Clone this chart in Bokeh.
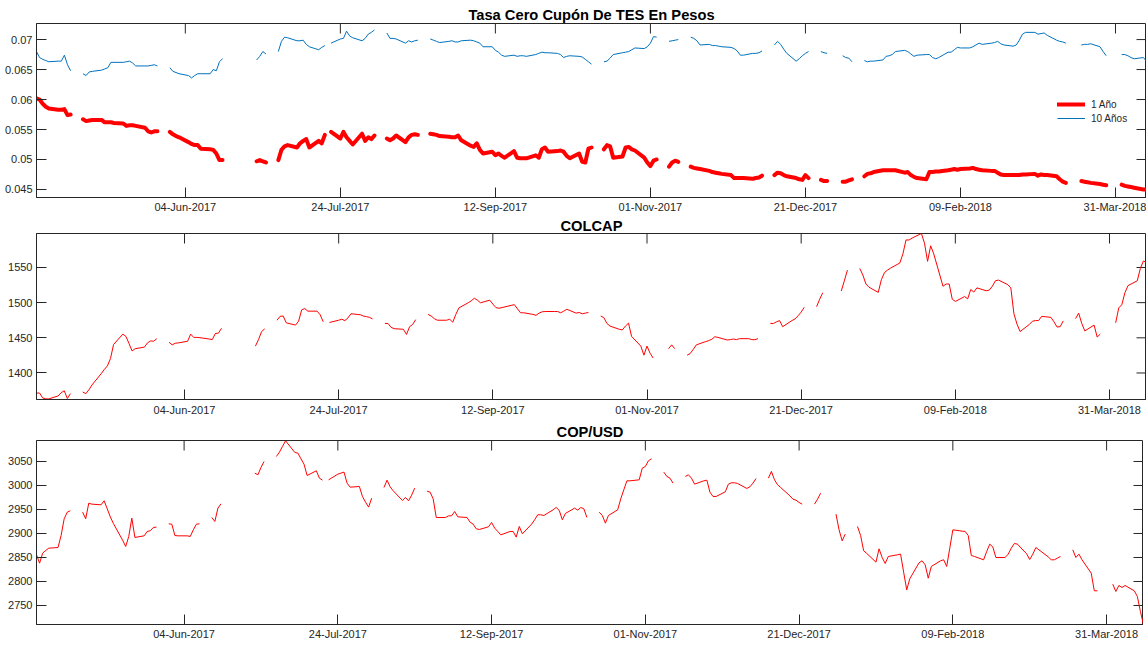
import math
import pandas as pd
from bokeh.plotting import figure
from bokeh.layouts import column
from bokeh.models import (ColumnDataSource, Range1d, FixedTicker, CustomJSTickFormatter,
                          Legend, LegendItem)
from bokeh.embed import file_html
from bokeh.resources import INLINE

N = float("nan")

# business days, Mon 17-Apr-2017 .. Thu 12-Apr-2018 (one row per week, Mon..Fri)
dates = pd.bdate_range("2017-04-17", "2018-04-12")

tes_1y = [
    0.0602, 0.0600, 0.0593, 0.0588, 0.0585,
    0.0583, 0.0583, 0.0584, 0.0574, 0.0575,
    N, 0.0567, 0.0564, 0.0565, 0.0566,
    0.0566, 0.0562, 0.0562, 0.0562, 0.0561,
    0.0560, 0.0556, 0.0557, 0.0557, 0.0556,
    0.0553, 0.0547, 0.0545, 0.0547, 0.0547,
    N, 0.0546, 0.0542, 0.0539, 0.0537,
    0.0529, 0.0526, 0.0524, 0.0524, 0.0518,
    0.0517, 0.0516, 0.0510, 0.0499, 0.0499,
    N, N, N, N, N,
    N, 0.0497, 0.0499, 0.0497, 0.0495,
    N, 0.0499, 0.0516, 0.0522, 0.0524,
    0.0520, 0.0527, 0.0531, 0.0534, 0.0520,
    0.0531, 0.0527, 0.0541, N, 0.0546,
    0.0535, 0.0546, 0.0537, 0.0531, 0.0525,
    0.0543, 0.0531, 0.0537, 0.0534, 0.0540,
    N, 0.0535, 0.0532, 0.0535, 0.0540,
    0.0529, 0.0537, 0.0541, 0.0542, 0.0541,
    N, 0.0543, 0.0542, 0.0541, 0.0539,
    0.0538, 0.0537, 0.0537, 0.0540, 0.0532,
    0.0523, 0.0521, 0.0527, 0.0516, 0.0510,
    0.0513, 0.0507, 0.0510, 0.0506, 0.0503,
    0.0514, 0.0503, 0.0502, 0.0502, 0.0502,
    0.0507, 0.0503, 0.0517, 0.0520, 0.0513,
    0.0514, 0.0515, 0.0513, 0.0506, 0.0502,
    0.0510, 0.0496, 0.0495, 0.0518, 0.0520,
    N, 0.0517, 0.0524, 0.0522, 0.0503,
    0.0505, 0.0520, 0.0521, 0.0517, 0.0515,
    0.0503, 0.0495, 0.0489, 0.0498, 0.0500,
    N, 0.0488, 0.0495, 0.0498, 0.0496,
    N, 0.0488, 0.0486, 0.0485, 0.0484,
    0.0481, 0.0479, 0.0478, 0.0477, 0.0476,
    0.0474, 0.0469, 0.0469, 0.0469, 0.0469,
    0.0468, 0.0469, 0.0470, 0.0473, N,
    0.0474, 0.0478, 0.0477, 0.0474, 0.0472,
    0.0469, 0.0467, 0.0466, 0.0474, 0.0469,
    N, 0.0466, 0.0464, 0.0464, N,
    N, 0.0463, 0.0463, 0.0465, 0.0467,
    N, 0.0472, 0.0476, 0.0477, 0.0479,
    0.0482, 0.0482, 0.0482, 0.0482, 0.0482,
    0.0478, 0.0479, 0.0474, 0.0471, 0.0469,
    0.0467, 0.0479, 0.0479, 0.0480, 0.0480,
    0.0482, 0.0483, 0.0484, 0.0483, 0.0484,
    0.0485, 0.0486, 0.0484, 0.0483, 0.0482,
    0.0481, 0.0481, 0.0478, 0.0475, 0.0474,
    0.0474, 0.0474, 0.0474, 0.0475, 0.0475,
    0.0476, 0.0473, 0.0475, 0.0474, 0.0474,
    0.0472, 0.0467, 0.0463, 0.0461, N,
    N, 0.0464, 0.0463, 0.0462, 0.0461,
    0.0459, 0.0458, 0.0457, N, N,
    0.0458, 0.0456, 0.0455, 0.0454, 0.0453,
    0.0450, 0.0450,
]

tes_10y = [
    0.0680, 0.0670, 0.0667, 0.0665, 0.0663,
    0.0664, 0.0664, 0.0674, 0.0658, 0.0648,
    N, 0.0643, 0.0640, 0.0646, 0.0647,
    0.0649, 0.0651, 0.0653, 0.0662, 0.0662,
    0.0662, 0.0663, 0.0664, 0.0661, 0.0656,
    0.0656, 0.0656, 0.0657, 0.0658, 0.0656,
    N, 0.0653, 0.0647, 0.0645, 0.0643,
    0.0640, 0.0636, 0.0640, 0.0643, 0.0643,
    0.0643, 0.0650, 0.0648, 0.0663, 0.0668,
    N, N, N, N, N,
    N, 0.0666, 0.0672, 0.0680, 0.0676,
    N, 0.0680, 0.0697, 0.0704, 0.0703,
    0.0698, 0.0698, 0.0699, 0.0692, 0.0688,
    0.0683, 0.0687, 0.0690, N, 0.0694,
    0.0701, 0.0702, 0.0714, 0.0706, 0.0703,
    0.0698, 0.0702, 0.0709, 0.0712, 0.0716,
    N, 0.0711, 0.0702, 0.0702, 0.0701,
    0.0694, 0.0698, 0.0696, 0.0698, 0.0699,
    N, 0.0701, 0.0699, 0.0697, 0.0695,
    0.0697, 0.0698, 0.0696, 0.0696, 0.0698,
    0.0699, 0.0698, 0.0696, 0.0694, 0.0688,
    0.0688, 0.0682, 0.0679, 0.0674, 0.0672,
    0.0674, 0.0672, 0.0673, 0.0673, 0.0672,
    0.0675, 0.0677, 0.0679, 0.0678, 0.0678,
    0.0677, 0.0675, 0.0670, 0.0672, 0.0673,
    0.0672, 0.0671, 0.0667, 0.0663, 0.0659,
    N, 0.0663, 0.0664, 0.0669, 0.0675,
    0.0678, 0.0679, 0.0680, 0.0683, 0.0686,
    0.0685, 0.0688, 0.0694, 0.0705, 0.0704,
    N, 0.0697, 0.0698, 0.0699, 0.0700,
    N, 0.0704, 0.0702, 0.0698, 0.0691,
    0.0692, 0.0690, 0.0690, 0.0689, 0.0688,
    0.0687, 0.0685, 0.0681, 0.0674, 0.0674,
    0.0677, 0.0677, 0.0678, 0.0681, N,
    0.0691, 0.0697, 0.0692, 0.0684, 0.0677,
    0.0664, 0.0668, 0.0673, 0.0677, 0.0680,
    N, 0.0680, 0.0678, 0.0677, N,
    N, 0.0673, 0.0670, 0.0669, 0.0663,
    N, 0.0665, 0.0663, 0.0664, 0.0664,
    0.0666, 0.0672, 0.0673, 0.0675, 0.0680,
    0.0682, 0.0680, 0.0676, 0.0672, 0.0674,
    0.0675, 0.0675, 0.0670, 0.0668, 0.0670,
    0.0679, 0.0679, 0.0683, 0.0687, 0.0686,
    0.0686, 0.0688, 0.0691, 0.0694, 0.0692,
    0.0694, 0.0695, 0.0697, 0.0693, 0.0691,
    0.0689, 0.0691, 0.0699, 0.0709, 0.0712,
    0.0712, 0.0709, 0.0710, 0.0711, 0.0707,
    0.0699, 0.0697, 0.0696, 0.0694, N,
    N, 0.0691, 0.0692, 0.0692, 0.0693,
    0.0688, 0.0680, 0.0673, N, N,
    0.0675, 0.0675, 0.0673, 0.0670, 0.0668,
    0.0670, 0.0664,
]

colcap = [
    1371.5, 1371.5, 1364.6, 1363.2, 1363.2,
    1367.3, 1372.0, 1374.7, 1363.7, 1370.6,
    N, 1372.9, 1370.6, 1376.1, 1383.0,
    1399.1, 1405.1, 1410.1, 1420.7, 1440.5,
    1455.2, 1452.0, 1441.9, 1431.3, 1434.5,
    1436.8, 1442.8, 1445.6, 1445.1, 1448.8,
    N, 1443.7, 1440.0, 1442.3, 1442.8,
    1445.1, 1455.2, 1450.6, 1450.6, 1450.2,
    1448.3, 1447.4, 1456.1, 1456.6, 1463.5,
    N, N, N, N, N,
    N, 1438.2, 1447.4, 1458.9, 1462.6,
    N, 1475.0, 1480.5, 1481.0, 1471.3,
    1468.1, 1473.6, 1489.7, 1491.6, 1487.9,
    1487.9, 1482.8, 1472.7, N, 1471.8,
    1475.0, 1476.4, 1474.5, 1478.2, 1484.2,
    1482.8, 1481.0, 1480.1, 1479.1, 1476.8,
    N, 1470.4, 1470.4, 1464.9, 1463.0,
    1462.1, 1454.8, 1465.8, 1469.0, 1475.9,
    N, 1483.3, 1481.0, 1477.3, 1475.0,
    1475.0, 1476.4, 1472.2, 1483.3, 1492.5,
    1499.8, 1502.6, 1506.3, 1503.5, 1499.8,
    1503.5, 1498.0, 1493.0, 1492.0, 1493.0,
    1496.2, 1497.1, 1491.1, 1485.6, 1485.6,
    1483.3, 1481.9, 1485.1, 1487.0, 1487.4,
    1487.4, 1487.4, 1485.6, 1487.9, 1490.6,
    1485.1, 1486.0, 1484.2, 1485.1, 1486.0,
    N, 1481.0, 1478.7, 1470.4, 1466.7,
    1462.1, 1461.2, 1466.7, 1470.9, 1452.0,
    1438.2, 1425.3, 1438.2, 1428.1, 1421.2,
    N, N, 1434.5, 1440.0, 1434.5,
    N, 1425.3, 1427.6, 1433.6, 1440.0,
    1444.6, 1446.0, 1447.9, 1451.5, 1450.6,
    1446.9, 1447.4, 1448.3, 1447.4, 1448.8,
    1448.8, 1447.4, 1447.4, 1448.8, N,
    1470.4, 1470.4, 1472.7, 1474.5, 1465.8,
    1474.5, 1476.8, 1481.4, 1486.5, 1493.4,
    N, 1494.3, 1504.9, 1514.1, N,
    N, N, 1516.4, 1531.0, 1546.3,
    N, 1548.6, 1539.4, 1526.5, 1521.9,
    1514.6, 1532.5, 1542.6, 1546.3, 1549.1,
    1556.4, 1569.3, 1589.1, 1589.1, 1591.9,
    1598.3, 1584.5, 1558.7, 1580.8, 1569.3,
    1523.3, 1526.5, 1526.5, 1504.9, 1501.7,
    1508.6, 1505.4, 1518.7, 1515.0, 1521.0,
    1516.9, 1517.8, 1523.3, 1531.1, 1532.1,
    1525.6, 1521.0, 1484.2, 1469.5, 1458.9,
    1469.0, 1473.6, 1474.5, 1474.5, 1480.5,
    1479.1, 1472.7, 1465.3, 1465.8, 1474.1,
    N, 1477.3, 1485.1, 1470.4, 1459.8,
    1468.1, 1451.1, 1455.2, N, N,
    1471.3, 1492.5, 1497.1, 1514.1, 1524.2,
    1531.1, 1548.6, 1559.2, 1557.0,
]

copusd = [
    2855.6, 2838.2, 2859.0, 2864.6, 2869.4,
    2870.8, 2895.8, 2930.6, 2944.4, 2947.2,
    N, 2944.4, 2930.6, 2963.2, 2961.1,
    2959.7, 2968.1, 2951.4, 2934.7, 2920.8,
    2886.1, 2872.9, 2893.8, 2931.9, 2891.7,
    2895.1, 2904.2, 2905.6, 2912.5, 2913.2,
    N, 2920.1, 2919.4, 2895.8, 2895.1,
    2895.1, 2893.8, 2907.6, 2919.4, 2920.1,
    N, 2933.3, 2925.0, 2952.8, 2961.8,
    N, N, N, N, N,
    N, 3025.7, 3022.2, 3037.5, 3050.0,
    N, 3060.4, 3069.4, 3081.3, 3093.1,
    3068.8, 3067.4, 3055.6, 3044.4, 3020.8,
    3030.6, 3015.3, 3011.1, N, 3011.8,
    3023.6, 3025.7, 3027.8, 3004.9, 2996.5,
    2997.9, 2977.1, 2965.3, 2954.9, 2973.6,
    N, 2995.8, 3011.1, 2997.2, 2988.9,
    2968.8, 2975.0, 2968.1, 2979.9, 2994.4,
    N, 2988.2, 2986.1, 2972.2, 2933.3,
    2933.3, 2936.8, 2936.8, 2945.8, 2934.7,
    2933.3, 2923.6, 2919.4, 2909.7, 2908.3,
    2913.9, 2922.9, 2911.1, 2904.2, 2897.2,
    2904.2, 2904.2, 2892.4, 2914.6, 2899.3,
    2919.4, 2928.5, 2938.9, 2938.9, 2937.5,
    2949.3, 2954.2, 2948.0, 2928.5, 2941.7,
    2952.8, 2948.6, 2954.2, 2951.4, 2933.3,
    N, 2944.4, 2937.5, 2921.5, 2937.5,
    2949.3, 2972.2, 2991.0, 3009.7, 3009.7,
    3011.8, 3036.1, 3039.6, 3051.4, 3055.6,
    N, 3027.8, 3018.8, 3015.3, 3004.9,
    N, 3018.8, 3022.2, 3015.3, 3002.8,
    3009.7, 3011.1, 2986.1, 2977.1, 2977.1,
    2986.8, 3002.8, 3005.6, 3005.6, 3004.2,
    2993.8, 2997.2, 3004.9, 3014.6, N,
    3015.3, 3029.2, 3011.8, 3001.4, 2995.8,
    2978.5, 2971.5, 2969.4, 2964.6, 2961.1,
    N, 2961.1, 2971.5, 2984.0, N,
    N, 2940.3, 2907.6, 2884.7, 2898.6,
    N, 2914.6, 2895.8, 2863.9, 2858.4,
    2840.3, 2868.1, 2850.0, 2837.5, 2852.1,
    2855.6, 2857.0, 2819.4, 2782.6, 2805.6,
    2838.9, 2843.1, 2834.7, 2806.9, 2831.3,
    2843.1, 2845.2, 2831.3, 2869.4, 2907.6,
    2904.9, 2904.2, 2895.8, 2854.2, 2852.1,
    2845.2, 2862.5, 2877.8, 2872.0, 2850.0,
    2850.0, 2856.9, 2869.4, 2879.2, 2877.8,
    2857.6, 2845.8, 2856.9, 2870.8, 2865.9,
    2851.4, 2845.2, 2845.2, 2848.6, 2852.1,
    N, 2866.0, 2850.0, 2857.0, 2845.2,
    2817.4, 2780.6, 2780.6, N, N,
    2794.4, 2779.2, 2791.7, 2787.5, 2791.7,
    2780.6, 2768.8, 2737.5, 2709.7,
]

x_tick_dates = ["2017-06-04", "2017-07-24", "2017-09-12", "2017-11-01",
                "2017-12-21", "2018-02-09", "2018-03-31"]
tes_yticks = [0.045, 0.05, 0.055, 0.06, 0.065, 0.07]
colcap_yticks = [1400, 1450, 1500, 1550]
cop_yticks = [2750, 2800, 2850, 2900, 2950, 3000, 3050]

FONT = "Liberation Sans"
AX = "#262626"
xt = [pd.Timestamp(s).value // 10**6 for s in x_tick_dates]
xt_dates = pd.to_datetime(x_tick_dates)

XCODE = """
const M = ["Jan","Feb","Mar","Apr","May","Jun","Jul","Aug","Sep","Oct","Nov","Dec"];
const d = new Date(tick);
const dd = String(d.getUTCDate()).padStart(2, "0");
return dd + "-" + M[d.getUTCMonth()] + "-" + d.getUTCFullYear();
"""


def style_axis(ax, standoff):
    ax.major_tick_in = 10
    ax.major_tick_out = 0
    ax.minor_tick_in = 0
    ax.minor_tick_out = 0
    ax.axis_line_color = AX
    ax.major_tick_line_color = AX
    ax.major_label_text_color = AX
    ax.major_label_text_font = FONT
    ax.major_label_text_font_size = "11px"
    ax.major_label_standoff = standoff


def panel(title, x_end, y_lo, y_hi, yticks, ycode, width, frame_h,
          min_top, left, title_standoff, x_standoff):
    x_start = pd.Timestamp("2017-04-17")
    x_stop = pd.Timestamp(x_end)
    p = figure(width=width, frame_height=frame_h, x_axis_type="datetime",
               x_range=Range1d(x_start, x_stop),
               y_range=Range1d(y_lo, y_hi),
               output_backend="svg", toolbar_location=None,
               min_border_left=left, min_border_right=0,
               min_border_top=min_top, min_border_bottom=0)
    p.title.text = title
    p.title.align = "center"
    p.title.text_font = FONT
    p.title.text_font_size = "14.7px"
    p.title.text_font_style = "bold"
    p.title.text_color = "black"
    p.title.standoff = title_standoff
    p.grid.visible = False
    p.outline_line_color = AX
    p.outline_line_width = 1
    xa = p.xaxis[0]
    xa.ticker = FixedTicker(ticks=xt)
    xa.formatter = CustomJSTickFormatter(code=XCODE)
    style_axis(xa, x_standoff)
    ya = p.yaxis[0]
    ya.ticker = FixedTicker(ticks=yticks)
    ya.formatter = CustomJSTickFormatter(code=ycode)
    style_axis(ya, 4)
    # mirrored inward ticks on the top and right edges of the box
    p.ray(x=list(xt_dates), y=[y_hi] * len(xt_dates), length=10,
          length_units="screen", angle=-math.pi / 2, line_color=AX, line_width=1)
    p.ray(x=[x_stop] * len(yticks), y=yticks, length=10,
          length_units="screen", angle=math.pi, line_color=AX, line_width=1)
    return p


# --- TES panel
src_tes = ColumnDataSource(dict(x=dates[:len(tes_1y)], y1=tes_1y, y10=tes_10y))
p1 = panel("Tasa Cero Cupón De TES En Pesos", "2018-04-10", 0.04366, 0.07268,
           tes_yticks, "return (Math.round(tick*1000)/1000).toString();",
           1146, 174, 23, 36, 1, 3)
r1 = p1.line("x", "y1", source=src_tes, line_color="#FF0000", line_width=4,
             line_join="round", line_cap="round")
r2 = p1.line("x", "y10", source=src_tes, line_color="#0072BD", line_width=1)
leg = Legend(items=[LegendItem(label="1 Año", renderers=[r1]),
                    LegendItem(label="10 Años", renderers=[r2])],
             location=(1021, 73), border_line_alpha=0, background_fill_alpha=0,
             label_text_font=FONT, label_text_font_size="10px", label_text_color=AX,
             glyph_width=28, glyph_height=12, label_height=12, spacing=2,
             padding=0, margin=0, label_standoff=6)
p1.add_layout(leg)

# --- COLCAP panel
src_m = ColumnDataSource(dict(x=dates, colcap=colcap, cop=copusd))
p2 = panel("COLCAP", "2018-04-12", 1362.3, 1598.3, colcap_yticks,
           "return tick.toFixed(0);", 1146, 166, 0, 35, 0, 4)
p2.line("x", "colcap", source=src_m, line_color="#FF0000", line_width=1)

# --- COP/USD panel
p3 = panel("COP/USD", "2018-04-12", 2710.4, 3093.7, cop_yticks,
           "return tick.toFixed(0);", 1143, 184, 22, 34, 1, 3)
p3.line("x", "cop", source=src_m, line_color="#FF0000", line_width=1)

layout = column(p1, p2, p3, spacing=0)
open("out.html", "w").write(file_html(layout, INLINE))
